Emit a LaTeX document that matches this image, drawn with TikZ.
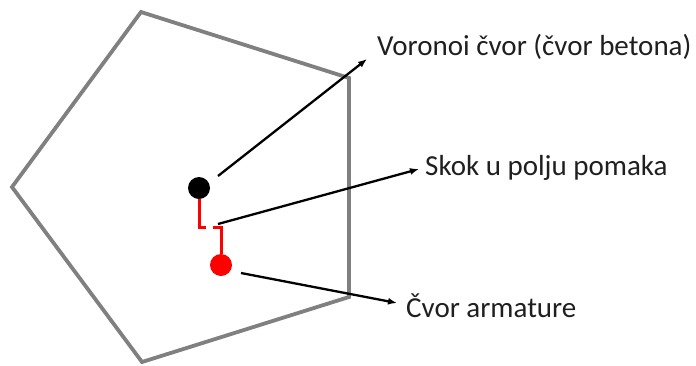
\documentclass[tikz,border=0pt]{standalone}
\usepackage{fontspec}
\setmainfont{Carlito}
\usetikzlibrary{arrows.meta}
\begin{document}
\begin{tikzpicture}[x=1pt,y=-1pt,
  cell/.style={draw=black!50,line width=3.8pt,line join=miter},
  dotnode/.style={circle,inner sep=0pt,minimum size=22pt},
  jump/.style={draw=red,line width=3pt},
  pointer/.style={draw=black,line width=2.3pt,-{Latex[length=9pt,width=7pt]}},
  lbl/.style={anchor=base west,inner sep=0pt,font=\fontsize{29}{34}\selectfont,text=black!88}]
\useasboundingbox (0,0) rectangle (696,365);
\draw[cell] (141,12) -- (349,78) -- (349,297) -- (142,362) -- (12,187) -- cycle;
\node[dotnode,fill=black] (vn) at (199,188) {};
\node[dotnode,fill=red] (an) at (221,265) {};
\draw[jump] (vn.south) -- (199,227) -- (206,227);
\draw[jump] (213,227) -- (221,227) -- (an.north);
\node[lbl] (t1) at (377,55) {Voronoi čvor (čvor betona)};
\node[lbl] (t2) at (425,175) {Skok u polju pomaka};
\node[lbl] (t3) at (406,317) {Čvor armature};
\coordinate (s1) at (218,176);
\coordinate (e1) at (367,59);
\coordinate (s2) at (218,224);
\coordinate (e2) at (419,169);
\coordinate (s3) at (241,273);
\coordinate (e3) at (397,303);
\draw[pointer] (s1) -- (e1);
\draw[pointer] (s2) -- (e2);
\draw[pointer] (s3) -- (e3);
\end{tikzpicture}
\end{document}
